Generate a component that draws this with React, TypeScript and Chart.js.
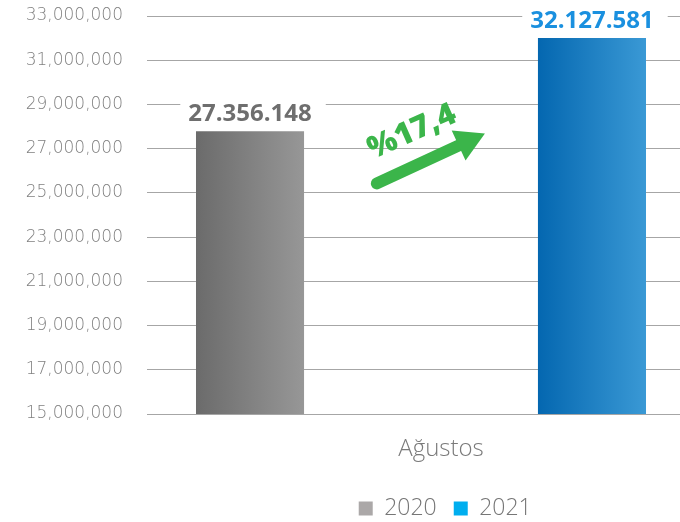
import React, { useEffect, useRef } from "react";
import { Chart, registerables } from "chart.js";

Chart.register(...registerables);

// ---- data ----
const categories = ["Ağustos"];
const seriesNames = ["2020", "2021"];
const barValues = [27790000, 32010000];
const valueLabels = ["27.356.148", "32.127.581"];
const changeLabel = "%17,4";
const yTickMin = 15000000;
const yTickMax = 33000000;
const yTickStep = 2000000;

// ---- styles ----
const legendColors = ["#aba8a8", "#00aeef"];
const gradientStops = [
  ["#6b6b6b", "#979797"],
  ["#0467b0", "#3a99d5"],
];
const labelColors = ["#6e6e6e", "#1a90df"];
const arrowColor = "#3bb54a";
const CATEGORY_PCT = 1.248;
const BAR_PCT = 0.316;
// annotation anchors (fraction between bar centres, value on y scale)
const arrowTail = { f: 0.371, v: 25430000 };
const arrowTip = { f: 0.687, v: 27690000 };
const changeTextAt = { f: 0.474, v: 27750000 };

function barFill(i: number) {
  return (c: any) => {
    const chart = c.chart;
    const xs = chart.scales && chart.scales.x;
    if (!chart.chartArea || !xs || c.type !== "data") return legendColors[i];
    const center = xs.getPixelForValue(c.dataIndex);
    const size = xs.width * CATEGORY_PCT;
    const chunk = size / seriesNames.length;
    const mid = center - size / 2 + chunk * i + chunk / 2;
    const half = (chunk * BAR_PCT) / 2;
    const g = chart.ctx.createLinearGradient(mid - half, 0, mid + half, 0);
    g.addColorStop(0, gradientStops[i][0]);
    g.addColorStop(1, gradientStops[i][1]);
    return g;
  };
}

const annotationPlugin = {
  id: "annotations",
  afterDatasetsDraw(chart: any) {
    const ctx = chart.ctx;
    const ys = chart.scales.y;
    ctx.save();
    const bars = chart.data.datasets.map((_: any, i: number) => chart.getDatasetMeta(i).data[0]);
    bars.forEach((bar: any, i: number) => {
      const text = valueLabels[i];
      ctx.font = 'bold 24px "Open Sans"';
      const w = ctx.measureText(text).width;
      const baseline = bar.y - 10;
      ctx.fillStyle = "#ffffff";
      ctx.fillRect(bar.x - w / 2 - 8, baseline - 26, w + 22, 31);
      ctx.fillStyle = labelColors[i];
      ctx.textAlign = "center";
      ctx.textBaseline = "alphabetic";
      ctx.fillText(text, bar.x, baseline);
    });

    const x0 = bars[0].x;
    const x1 = bars[1].x;
    const px = (f: number) => x0 + (x1 - x0) * f;
    const tx = px(arrowTail.f);
    const ty = ys.getPixelForValue(arrowTail.v);
    const hx = px(arrowTip.f);
    const hy = ys.getPixelForValue(arrowTip.v);
    const ang = Math.atan2(hy - ty, hx - tx);
    const headLen = 29;
    const headHalf = 16.5;
    const bx = hx - Math.cos(ang) * headLen;
    const by = hy - Math.sin(ang) * headLen;
    ctx.strokeStyle = arrowColor;
    ctx.lineWidth = 12;
    ctx.lineCap = "round";
    ctx.beginPath();
    ctx.moveTo(tx, ty);
    ctx.lineTo(bx + Math.cos(ang) * 4, by + Math.sin(ang) * 4);
    ctx.stroke();
    ctx.fillStyle = arrowColor;
    ctx.beginPath();
    ctx.moveTo(hx, hy);
    ctx.lineTo(bx - Math.sin(ang) * headHalf, by + Math.cos(ang) * headHalf);
    ctx.lineTo(bx + Math.sin(ang) * headHalf, by - Math.cos(ang) * headHalf);
    ctx.closePath();
    ctx.fill();

    ctx.translate(px(changeTextAt.f), ys.getPixelForValue(changeTextAt.v));
    ctx.rotate((-24 * Math.PI) / 180);
    ctx.font = '800 31px "Open Sans"';
    ctx.textAlign = "center";
    ctx.textBaseline = "middle";
    ctx.fillText(changeLabel, 0, 0);
    ctx.restore();
  },
};

export default function App() {
  const ref = useRef<HTMLCanvasElement | null>(null);

  useEffect(() => {
    if (!ref.current) return;
    Chart.defaults.font.family = '"Open Sans", sans-serif';
    const chart = new Chart(ref.current, {
      type: "bar",
      data: {
        labels: categories,
        datasets: seriesNames.map((name, i) => ({
          label: name,
          data: [barValues[i]],
          backgroundColor: barFill(i),
          borderWidth: 0,
          categoryPercentage: CATEGORY_PCT,
          barPercentage: BAR_PCT,
        })),
      },
      options: {
        responsive: false,
        maintainAspectRatio: false,
        animation: false,
        layout: { padding: { top: 16, left: 0, right: 0, bottom: 0 } },
        plugins: {
          tooltip: { enabled: false },
          legend: {
            position: "bottom",
            fullSize: false,
            onClick: () => {},
            labels: {
              boxWidth: 14,
              boxHeight: 14,
              padding: 17,
              color: "#767676",
              font: { size: 23, weight: "300" as any, family: '"Open Sans"' },
              generateLabels: (ch: any) => [
                {
                  text: " ",
                  fillStyle: "rgba(0,0,0,0)",
                  strokeStyle: "rgba(0,0,0,0)",
                  lineWidth: 0,
                  hidden: false,
                  datasetIndex: -1,
                },
                ...seriesNames.map((n, i) => ({
                  text: n,
                  fillStyle: legendColors[i],
                  strokeStyle: legendColors[i],
                  lineWidth: 0,
                  hidden: !ch.isDatasetVisible(i),
                  datasetIndex: i,
                  fontColor: "#767676",
                })),
              ],
            },
          },
        },
        scales: {
          x: {
            grid: { display: false, drawTicks: false },
            border: { display: false },
            ticks: {
              color: "#7a7a7a",
              padding: 21,
              labelOffset: 20,
              font: { size: 24, weight: "300" as any, family: '"Open Sans"' },
            },
            afterFit: (s: any) => {
              s.height = 66;
            },
          },
          y: {
            min: yTickMin,
            max: yTickMax,
            grid: { color: "#a6a6a6", lineWidth: 1, drawTicks: false },
            border: { display: false },
            ticks: {
              stepSize: yTickStep,
              padding: 24,
              color: "#808080",
              font: { size: 17, weight: "200" as any, family: '"DejaVu Sans"' },
              callback: (v: any) => Number(v).toLocaleString("en-US"),
            },
            afterFit: (s: any) => {
              s.width = 147;
              s.paddingTop = 0;
              s.paddingBottom = 0;
            },
          },
        },
      },
      plugins: [annotationPlugin],
    });
    return () => chart.destroy();
  }, []);

  return (
    <div
      style={{
        position: "absolute",
        left: 0,
        top: 0,
        width: 680,
        height: 522,
        overflow: "hidden",
        background: "#ffffff",
      }}
    >
      <canvas ref={ref} width={695} height={530} style={{ display: "block" }} />
    </div>
  );
}
